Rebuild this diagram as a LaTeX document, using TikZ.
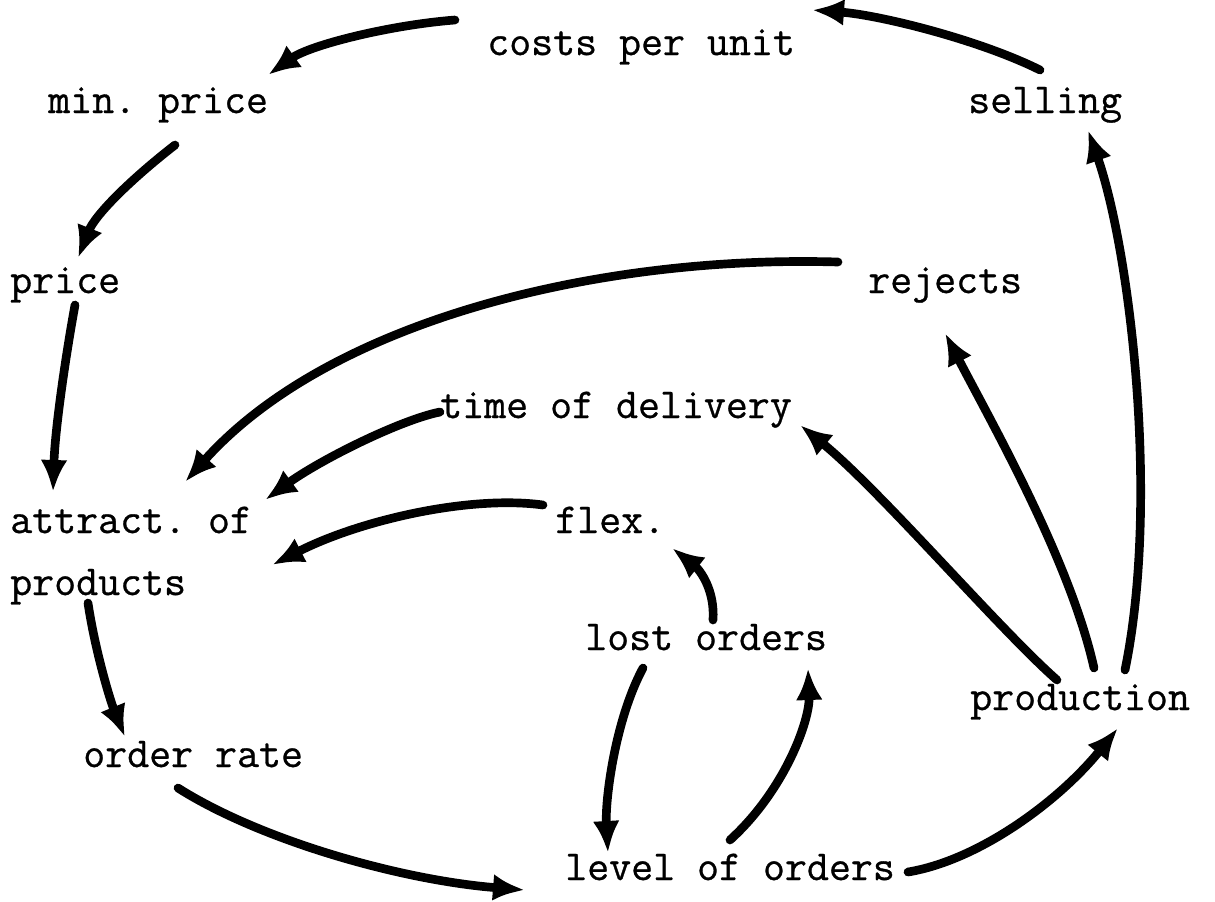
\documentclass[tikz,border=0pt]{standalone}
\usepackage{fontspec}
\setmonofont[FakeBold=0.7]{Latin Modern Mono}
\usetikzlibrary{arrows.meta}
\begin{document}
\begin{tikzpicture}[x=0.75pt,y=-0.75pt,
  lbl/.style={anchor=base west,inner sep=0pt,
    font=\ttfamily\fontsize{32pt}{46.5pt}\selectfont},
  arr/.style={line width=6.5pt,line cap=round,
    -{Latex[length=24pt,width=20pt]}}]
\useasboundingbox[fill=white] (0,0) rectangle (1215,901);

% variables
\node[lbl] (costs)   at (487,55)  {costs per unit};
\node[lbl] (minp)    at (48,113)  {min. price};
\node[lbl] (selling) at (968,113) {selling};
\node[lbl] (price)   at (10,293)  {price};
\node[lbl] (rejects) at (868,293) {rejects};
\node[lbl] (tod)     at (440,418) {time of delivery};
\node[lbl,align=left] (attract) at (10,595) {attract. of\\products};
\node[lbl] (flex)    at (555,533) {flex.};
\node[lbl] (lost)    at (585,650) {lost orders};
\node[lbl] (prod)    at (970,710) {production};
\node[lbl] (orate)   at (83,767)  {order rate};
\node[lbl] (level)   at (565,880) {level of orders};

% influences
\draw[arr] ([shift={(-32,-35)}]costs.base west) .. controls (390,25) and (310,45) .. ([shift={(220,-38)}]minp.base west);
\draw[arr] ([shift={(72,-43)}]selling.base west) .. controls (980,40) and (880,15) .. ([shift={(325,-45)}]costs.base west);
\draw[arr] ([shift={(127,32)}]minp.base west) .. controls (130,180) and (95,215) .. ([shift={(68,-35)}]price.base west);
\draw[arr] ([shift={(65,12)}]price.base west) .. controls (65,360) and (55,430) .. ([shift={(43,-103)}]attract.base west);
\draw[arr] ([shift={(-30,-31)}]rejects.base west) .. controls (600,255) and (330,320) .. ([shift={(175,-113)}]attract.base west);
\draw[arr] ([shift={(0,-6)}]tod.base west) .. controls (400,420) and (320,460) .. ([shift={(255,-95)}]attract.base west);
\draw[arr] ([shift={(-12,-28)}]flex.base west) .. controls (470,495) and (360,520) .. ([shift={(262,-30)}]attract.base west);
\draw[arr] ([shift={(78,8)}]attract.base west) .. controls (95,650) and (110,700) .. ([shift={(42,-30)}]orate.base west);
\draw[arr] ([shift={(95,21)}]orate.base west) .. controls (260,840) and (400,880) .. ([shift={(-40,10)}]level.base west);
\draw[arr] ([shift={(58,18)}]lost.base west) .. controls (615,720) and (605,800) .. ([shift={(43,-27)}]level.base west);
\draw[arr] ([shift={(165,-40)}]level.base west) .. controls (785,790) and (810,720) .. ([shift={(223,18)}]lost.base west);
\draw[arr] ([shift={(128,-30)}]lost.base west) .. controls (715,590) and (700,570) .. ([shift={(117,15)}]flex.base west);
\draw[arr] ([shift={(343,-8)}]level.base west) .. controls (980,860) and (1060,800) .. ([shift={(148,18)}]prod.base west);
\draw[arr] ([shift={(87,-30)}]prod.base west) .. controls (1000,630) and (880,490) .. ([shift={(360,7)}]tod.base west);
\draw[arr] ([shift={(124,-42)}]prod.base west) .. controls (1070,560) and (990,420) .. ([shift={(77,40)}]rejects.base west);
\draw[arr] ([shift={(155,-40)}]prod.base west) .. controls (1160,500) and (1130,250) .. ([shift={(120,17)}]selling.base west);
\end{tikzpicture}
\end{document}
